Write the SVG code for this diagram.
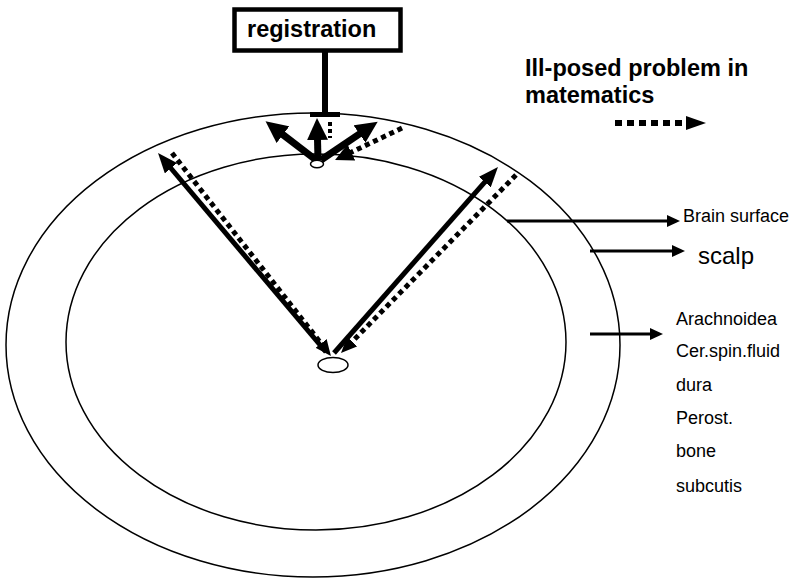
<svg xmlns="http://www.w3.org/2000/svg" width="795" height="584" viewBox="0 0 795 584">
<style>
.ring{fill:none;stroke:#000;stroke-width:1.5}
.src{fill:#fff;stroke:#000;stroke-width:1.5}
.solid{fill:none;stroke:#000;stroke-width:5}
.thick{fill:none;stroke:#000;stroke-width:7}
.dot{fill:none;stroke:#000;stroke-width:5;stroke-dasharray:5 4}
.thin{fill:none;stroke:#000;stroke-width:3}
.bold{font-family:"Liberation Sans",Arial,sans-serif;font-weight:bold;font-size:23.5px;fill:#000}
.lbl{font-family:"Liberation Sans",Arial,sans-serif;font-size:18px;fill:#000}
</style>
<defs>
<marker id="big" markerUnits="userSpaceOnUse" viewBox="0 0 20 16" markerWidth="20" markerHeight="16" refX="1" refY="8" orient="auto"><path d="M0,0 L20,8 L0,16 Z" fill="#000"/></marker>
<marker id="mid" markerUnits="userSpaceOnUse" viewBox="0 0 16 14" markerWidth="16" markerHeight="14" refX="1" refY="7" orient="auto"><path d="M0,0 L16,7 L0,14 Z" fill="#000"/></marker>
<marker id="top" markerUnits="userSpaceOnUse" viewBox="0 0 22 21" markerWidth="22" markerHeight="21" refX="1" refY="10.5" orient="auto"><path d="M0,0 L22,10.5 L0,21 Z" fill="#000"/></marker>
<marker id="topd" markerUnits="userSpaceOnUse" viewBox="0 0 18 18" markerWidth="18" markerHeight="18" refX="1" refY="9" orient="auto"><path d="M0,0 L18,9 L0,18 Z" fill="#000"/></marker>
<marker id="sm" markerUnits="userSpaceOnUse" viewBox="0 0 13 12" markerWidth="13" markerHeight="12" refX="1" refY="6" orient="auto"><path d="M0,0 L13,6 L0,12 Z" fill="#000"/></marker>
<marker id="leg" markerUnits="userSpaceOnUse" viewBox="0 0 20 14" markerWidth="20" markerHeight="14" refX="1" refY="7" orient="auto"><path d="M0,0 L20,7 L0,14 Z" fill="#000"/></marker>
</defs>

<g id="scalp-ring"><ellipse class="ring" cx="313" cy="345" rx="307" ry="232"/></g>
<g id="brain-ring"><ellipse class="ring" cx="316" cy="342" rx="250" ry="188"/></g>

<g id="registration">
<rect x="234.5" y="9.5" width="166" height="41" fill="#fff" stroke="#000" stroke-width="4.5"/>
<text class="bold" x="247" y="37">registration</text>
</g>

<g id="legend">
<text class="bold" x="525" y="76">Ill-posed problem in</text>
<text class="bold" x="525" y="103">matematics</text>
<line class="thick" x1="615" y1="123" x2="687" y2="123" style="stroke-width:6;stroke-dasharray:7 5" marker-end="url(#leg)"/>
</g>

<g id="labels">
<text class="lbl" x="683" y="222">Brain surface</text>
<text class="lbl" x="698" y="264" style="font-size:24px">scalp</text>
<text class="lbl" x="676" y="325">Arachnoidea</text>
<text class="lbl" x="676" y="357">Cer.spin.fluid</text>
<text class="lbl" x="676" y="391">dura</text>
<text class="lbl" x="676" y="424">Perost.</text>
<text class="lbl" x="676" y="457">bone</text>
<text class="lbl" x="676" y="492">subcutis</text>
</g>

<g id="connectors">
<line x1="325" y1="51" x2="325" y2="114" stroke="#000" stroke-width="6"/>
<line x1="310" y1="114.5" x2="340" y2="114.5" stroke="#000" stroke-width="5"/>
<line class="thick" x1="316" y1="160" x2="282.2" y2="134.1" marker-end="url(#top)"/>
<line class="thick" x1="318" y1="160" x2="317.5" y2="139" marker-end="url(#top)"/>
<line class="thick" x1="321" y1="160" x2="360.3" y2="133.4" marker-end="url(#top)"/>
<line x1="330" y1="122" x2="330" y2="138" stroke="#000" stroke-width="4" stroke-dasharray="4 3"/>
<line class="dot" x1="402" y1="128" x2="350.4" y2="152.7" marker-end="url(#topd)"/>
<line class="solid" x1="326" y1="352" x2="170.3" y2="167.5" marker-end="url(#big)"/>
<line class="solid" x1="334" y1="353" x2="485.4" y2="181.3" marker-end="url(#big)"/>
<line class="dot" x1="172" y1="153" x2="321.7" y2="344.2" marker-end="url(#mid)"/>
<line class="dot" x1="516" y1="175" x2="351.5" y2="342.3" marker-end="url(#mid)"/>
<line class="thin" x1="507" y1="221" x2="668" y2="221" marker-end="url(#sm)"/>
<line class="thin" x1="590" y1="251" x2="673" y2="251" marker-end="url(#sm)"/>
<line class="thin" x1="590" y1="334" x2="651" y2="334" marker-end="url(#sm)"/>
</g>

<g id="top-source"><ellipse class="src" cx="317" cy="164" rx="6.5" ry="3.8"/></g>
<g id="center-source"><ellipse class="src" cx="333" cy="365" rx="15" ry="7.5"/></g>
</svg>
